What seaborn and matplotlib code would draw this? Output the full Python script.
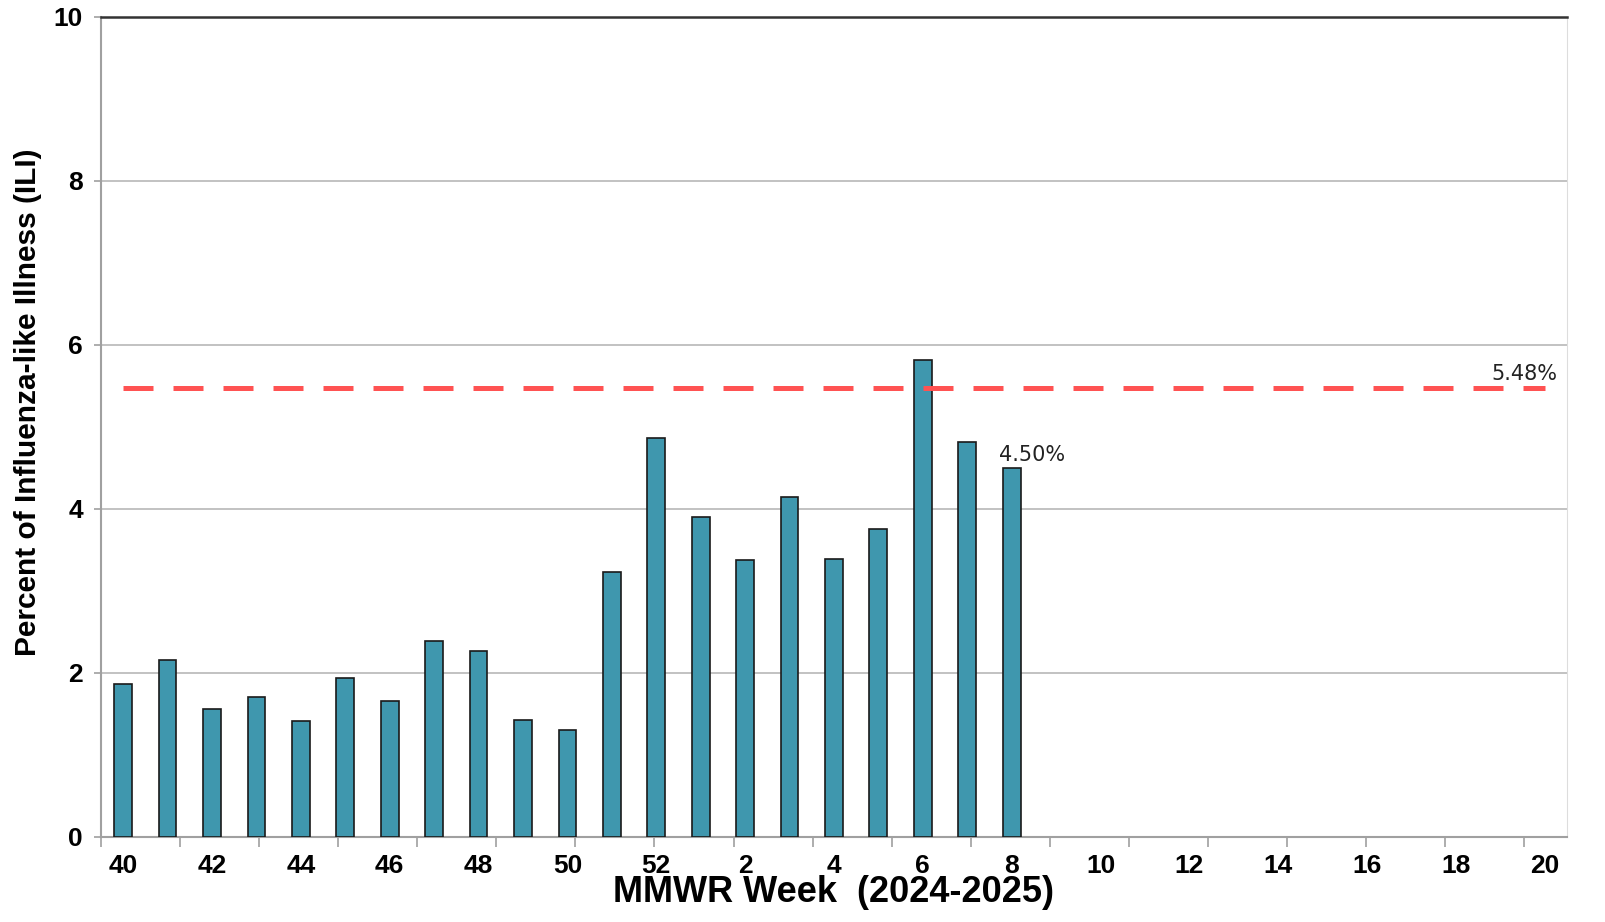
import numpy as np
import matplotlib.pyplot as plt
import seaborn as sns
import pandas as pd

# weeks on the x axis (2024-2025 season)
weeks = [str(w) for w in range(40, 53)] + [str(w) for w in range(1, 21)]
# reported weeks and their ILI percent
report_weeks = [str(w) for w in range(40, 53)] + [str(w) for w in range(1, 9)]
ili_pct = [1.87, 2.16, 1.56, 1.71, 1.41, 1.94, 1.66, 2.39, 2.27, 1.43, 1.30,
           3.23, 4.87, 3.90, 3.38, 4.15, 3.39, 3.76, 5.82, 4.82, 4.50]
baseline = 5.48
tick_labels = [w if i % 2 == 0 else "" for i, w in enumerate(weeks)]

df = pd.DataFrame({"week": report_weeks, "ili": ili_pct})

sns.set_style("white")
plt.rcParams['font.family'] = ['Liberation Sans', 'DejaVu Sans']
plt.rcParams['text.color'] = 'black'
plt.rcParams['axes.labelcolor'] = 'black'
plt.rcParams['xtick.labelcolor'] = 'black'
plt.rcParams['ytick.labelcolor'] = 'black'

fig = plt.figure(figsize=(16.05, 9.22), dpi=100)
ax = fig.add_axes([0.0629, 0.0922, 0.9134, 0.8894])

sns.barplot(data=df, x="week", y="ili", order=weeks, color="#3f97ae",
            saturation=1, width=0.40, edgecolor="#1a1a1a", linewidth=1.2,
            ax=ax, zorder=3)

# baseline
ax.hlines(baseline, 0, len(weeks) - 1, color="#ff5252", lw=3.6,
          linestyles=(0, (6, 4)), zorder=4)
ax.text(len(weeks) - 1.45, baseline + 0.04, f"{baseline:.2f}%", ha="center",
        va="bottom", fontsize=15, family="DejaVu Sans", color="#222222", zorder=5)
last = len(ili_pct) - 1
ax.text(last + 0.47, ili_pct[last] + 0.04, f"{ili_pct[last]:.2f}%", ha="center",
        va="bottom", fontsize=15, family="DejaVu Sans", color="#222222", zorder=5)

ax.set_xlim(-0.5, len(weeks) - 0.5)
ax.set_ylim(0, 10)
ax.set_yticks([0, 2, 4, 6, 8, 10])
ax.yaxis.grid(True, color="#b8b8b8", lw=1.2, zorder=0)
ax.set_axisbelow(True)

ax.set_xticks(range(len(weeks)))
ax.set_xticklabels(tick_labels, fontsize=19, fontweight="bold")
ax.tick_params(axis="x", which="major", bottom=True, length=0, pad=12)
ax.set_xticks(np.arange(-0.5, len(weeks), 1.78), minor=True)
ax.tick_params(axis="x", which="minor", bottom=True, length=7,
               color="#a0a0a0", width=1.2)
ax.tick_params(axis="y", left=True, labelsize=19, length=5, color="#a0a0a0",
               width=1.2, pad=8)
for lab in ax.get_yticklabels():
    lab.set_fontweight("bold")

for side in ["left", "bottom"]:
    ax.spines[side].set_color("#a0a0a0")
    ax.spines[side].set_linewidth(1.5)
ax.spines["right"].set_color("#dddddd")
ax.spines["top"].set_color("#333333")
ax.spines["top"].set_linewidth(1.8)

ax.set_xlabel("MMWR Week  (2024-2025)", fontsize=26, fontweight="bold",
              labelpad=-2)
ax.set_ylabel("Percent of Influenza-like Illness (ILI)", fontsize=21.5,
              fontweight="bold")
ax.yaxis.set_label_coords(-0.04, 0.53)

fig.savefig("out.png", dpi=100)
